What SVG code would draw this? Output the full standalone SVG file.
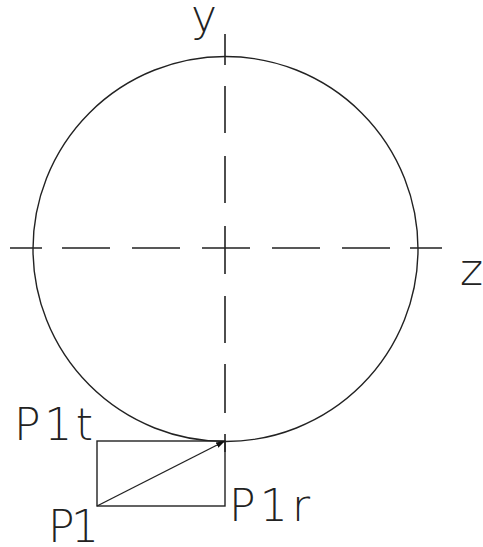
<svg xmlns="http://www.w3.org/2000/svg" width="483" height="547" viewBox="0 0 483 547">
<style>
.ax{stroke:#222;stroke-width:1.6;fill:none}
.ln{stroke:#222;stroke-width:1.4;fill:none}
.t{font-family:"DejaVu Sans","Liberation Sans",sans-serif;font-weight:200;font-size:44px;fill:#222}
</style>
<defs>
<marker id="ah" markerWidth="10" markerHeight="8" refX="9" refY="4" orient="auto" markerUnits="userSpaceOnUse">
<path d="M0,1 L9,4 L0,7 Z" fill="#111"/>
</marker>
</defs>
<g id="circle"><circle class="ln" cx="225.5" cy="249" r="192.5"/></g>
<g id="axes">
<path class="ax" d="M10,248H42 M62,248H110 M132,248H180 M202,248H250 M272,248H320 M342,248H390 M410,248H442"/>
<path class="ax" d="M225,34V65 M225,86V133 M225,156V203 M225,226V274 M225,296V343 M225,364V413 M225,434V452"/>
</g>
<g id="rect"><rect class="ln" x="97" y="441" width="128" height="65"/></g>
<g id="connectors"><line class="ln" x1="97" y1="506" x2="225" y2="441" marker-end="url(#ah)"/></g>
<g id="labels">
<text class="t" x="191" y="31">y</text>
<text class="t" x="460" y="285">z</text>
<text class="t" x="14" y="440" textLength="79" lengthAdjust="spacing">P1t</text>
<text class="t" x="48" y="542" textLength="51" lengthAdjust="spacing">P1</text>
<text class="t" x="229" y="521" textLength="81" lengthAdjust="spacing">P1r</text>
</g>
</svg>
